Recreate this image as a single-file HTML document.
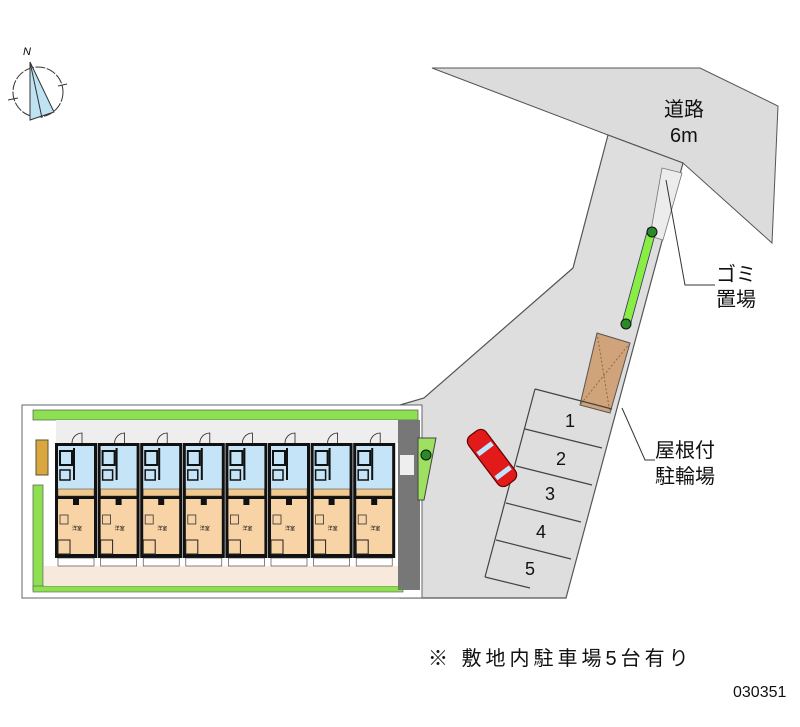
<!DOCTYPE html>
<html><head><meta charset="utf-8"><style>
html,body{margin:0;padding:0;background:#fff;}
svg{display:block;}
text{font-family:"Liberation Sans","Noto Sans CJK JP",sans-serif;}
</style></head><body>
<svg width="800" height="727" viewBox="0 0 800 727" xmlns="http://www.w3.org/2000/svg">
<!-- compass -->
<g stroke="#333" stroke-width="1" fill="none">
<circle cx="38" cy="92" r="25" stroke-dasharray="10,1.5"/>
<polygon points="30,62 30,120 54,112" fill="#bfe3f3"/>
<line x1="30" y1="62" x2="42" y2="118"/>
<line x1="8" y1="100" x2="18" y2="98"/><line x1="58" y1="86" x2="67" y2="84"/>
</g>
<text x="23" y="55" font-size="11" font-style="italic">N</text>
<!-- road -->
<polygon points="432,68 700,68 778,106 772,243 683,163 608,135" fill="#dcdcdc" stroke="#555" stroke-width="1"/>
<!-- lot -->
<polygon points="608,135 683,163 566,598 400,598 400,405 424,398 573,268" fill="#dedede" stroke="#555" stroke-width="1.2"/>
<!-- gomi area -->
<polygon points="662,168 682,173 663,240 650,236" fill="#ececec" stroke="#777" stroke-width="0.8"/>
<!-- green strip -->
<polygon points="648,228 656,231 630,326 622,323" fill="#88ee44" stroke="#335" stroke-width="0.8"/>
<circle cx="652" cy="232" r="5" fill="#2a8a2a" stroke="#111"/>
<circle cx="626" cy="324" r="5" fill="#2a8a2a" stroke="#111"/>
<!-- bike shelter -->
<polygon points="597,333 630,343 610,413 580,405" fill="#d0a37a" stroke="#555" stroke-width="1"/>
<line x1="597" y1="333" x2="610" y2="413" stroke="#8a6a4a" stroke-dasharray="2,2"/>
<line x1="630" y1="343" x2="580" y2="405" stroke="#8a6a4a" stroke-dasharray="2,2"/>
<!-- parking -->
<g stroke="#444" stroke-width="1.2" fill="none">
<line x1="535" y1="389" x2="485" y2="577"/>
<line x1="535" y1="389" x2="612" y2="409"/>
<line x1="525" y1="429" x2="602" y2="448"/>
<line x1="516" y1="466" x2="592" y2="485"/>
<line x1="506" y1="503" x2="581" y2="522"/>
<line x1="496" y1="540" x2="571" y2="559"/>
<line x1="485" y1="577" x2="530" y2="588"/>
</g>
<g font-size="18" fill="#111" text-anchor="middle">
<text x="570" y="427">1</text><text x="561" y="465">2</text><text x="550" y="500">3</text><text x="541" y="538">4</text><text x="530" y="575">5</text>
</g>
<!-- car -->
<g transform="translate(492,458) rotate(-37)">
<rect x="-11" y="-31" width="22" height="62" rx="7" fill="#e21a1a" stroke="#600" stroke-width="1.2"/>
<rect x="-9" y="-14" width="18" height="5" fill="#bfe6ff"/>
<rect x="-9" y="16" width="18" height="5" fill="#bfe6ff"/>
</g>
<!-- building site -->
<rect x="22" y="405" width="400" height="193" fill="#fff" stroke="#666" stroke-width="1"/>
<rect x="33" y="410" width="385" height="10" fill="#8ee050" stroke="#555" stroke-width="0.7"/>
<rect x="33" y="485" width="10" height="105" fill="#8ee050" stroke="#555" stroke-width="0.7"/>
<rect x="33" y="586" width="370" height="6" fill="#8ee050" stroke="#555" stroke-width="0.6"/>
<rect x="36" y="440" width="12" height="35" fill="#d9a640" stroke="#553"/>
<rect x="56" y="420" width="342" height="23" fill="#eeeeee"/>
<rect x="44" y="566" width="354" height="20" fill="#f7eadc"/>
<rect x="398" y="420" width="22" height="170" fill="#777"/>
<rect x="400" y="455" width="14" height="20" fill="#eee"/>
<polygon points="418,438 436,438 424,500 418,500" fill="#9ee060" stroke="#444"/>
<circle cx="426" cy="455" r="5" fill="#2a8a2a" stroke="#111"/>
<g id="units">
<g>
<path d="M72,443 A10,10 0 0 1 82,433 L82,443" fill="none" stroke="#222" stroke-width="0.8"/>
<rect x="55" y="443" width="42" height="115" fill="#111"/>
<rect x="58" y="446" width="36" height="50" fill="#c6e4f7"/>
<rect x="58" y="499" width="36" height="55" fill="#f8d3a6"/>
<rect x="60" y="451" width="12" height="14" fill="none" stroke="#111" stroke-width="2"/>
<line x1="74" y1="448" x2="74" y2="480" stroke="#111" stroke-width="2"/>
<rect x="60" y="470" width="10" height="10" fill="none" stroke="#111" stroke-width="1.5"/>
<rect x="58" y="489" width="36" height="7" fill="#f1c98e" stroke="#333" stroke-width="0.5"/>
<rect x="73" y="497" width="6" height="8" fill="#111"/>
<rect x="60" y="515" width="8" height="9" fill="none" stroke="#333" stroke-width="0.8"/>
<rect x="58" y="540" width="12" height="14" fill="none" stroke="#222" stroke-width="1"/>
<rect x="58" y="558" width="36" height="8" fill="#fff" stroke="#333" stroke-width="0.6"/>
<text x="72" y="530" font-size="5">洋室</text>
</g>
</g>
<use href="#units" x="42.6"/><use href="#units" x="85.2"/><use href="#units" x="127.8"/>
<use href="#units" x="170.4"/><use href="#units" x="213"/><use href="#units" x="255.6"/><use href="#units" x="298.2"/>
<!-- labels -->
<g font-size="20" fill="#111">
<text x="664" y="116">道路</text><text x="670" y="142">6m</text>
<text x="716" y="281">ゴミ</text><text x="716" y="306">置場</text>
<text x="655" y="457">屋根付</text><text x="655" y="483">駐輪場</text>
</g>
<polyline points="666,180 685,285 715,285" fill="none" stroke="#333"/>
<polyline points="622,408 645,460 655,460" fill="none" stroke="#333"/>
<text x="428" y="665" font-size="20" fill="#111" letter-spacing="4">※ 敷地内駐車場5台有り</text>
<text x="733" y="697" font-size="16" fill="#111">030351</text>
</svg>
</body></html>
